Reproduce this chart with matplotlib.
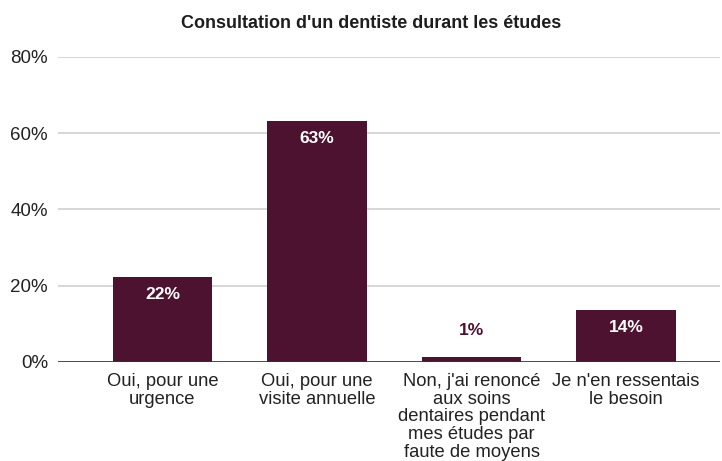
import matplotlib.pyplot as plt

categories = [
    "Oui, pour une\nurgence",
    "Oui, pour une\nvisite annuelle",
    "Non, j'ai renoncé\naux soins\ndentaires pendant\nmes études par\nfaute de moyens",
    "Je n'en ressentais\nle besoin",
]
values = [22.3, 63.1, 1.3, 13.7]
labels = ["22%", "63%", "1%", "14%"]
yticks = [0, 20, 40, 60, 80]

bar_color = "#4e1231"
plt.rcParams["font.family"] = ["Liberation Sans", "DejaVu Sans"]

fig = plt.figure(figsize=(7.22, 4.61), dpi=100)
ax = fig.add_axes([0.080, 0.2148, 0.917, 0.6616])

x = range(len(categories))
bars = ax.bar(x, values, width=0.645, color=bar_color, zorder=3)

for b, v, lab in zip(bars, values, labels):
    cx = b.get_x() + b.get_width() / 2
    if v > 8:
        ax.annotate(lab, (cx, v), xytext=(0, -12.5), textcoords="offset points",
                    ha="center", va="center", color="white",
                    fontsize=12.5, fontweight="bold", zorder=4)
    else:
        ax.annotate(lab, (cx, v), xytext=(0, 19), textcoords="offset points",
                    ha="center", va="center", color=bar_color,
                    fontsize=12.5, fontweight="bold", zorder=4)

ax.set_xlim(-0.677, 3.606)
ax.set_ylim(0, 80)
ax.set_yticks(yticks)
ax.set_yticklabels([f"{t}%" for t in yticks], fontsize=13.5)
ax.set_xticks(list(x))
ax.set_xticklabels(categories, linespacing=1.05, fontsize=13.2)

ax.grid(axis="y", color="#d0d0d0", linewidth=1.2, zorder=0)
ax.axhline(0, color="#333333", linewidth=1.2, zorder=5)
for s in ax.spines.values():
    s.set_visible(False)
ax.tick_params(axis="both", length=0, colors="#222222")
ax.tick_params(axis="y", pad=7)
ax.tick_params(axis="x", pad=8)

fig.text(0.514, 0.950, "Consultation d'un dentiste durant les études",
         ha="center", va="center", fontsize=13, fontweight="bold",
         color="#1e1e1e")

fig.savefig("out.png", dpi=100)
